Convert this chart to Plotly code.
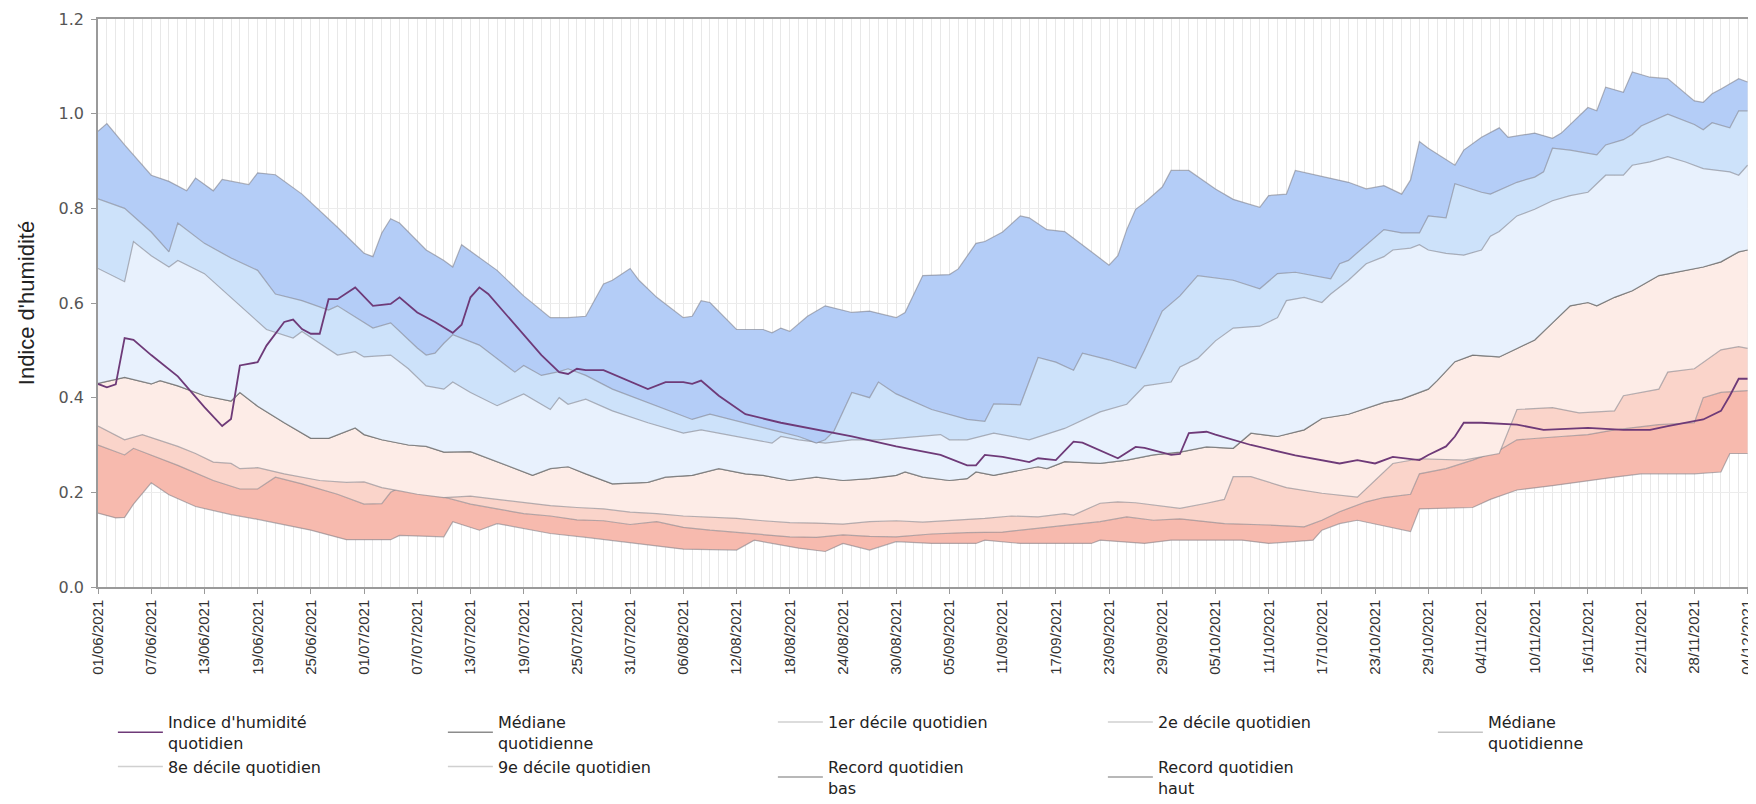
import datetime as dt
import plotly.graph_objects as go

START = dt.date(2021, 6, 1)
END = dt.datetime(2021, 12, 4, 12)

# ---- data (day offset from 01/06/2021, value) ----
tick_days = [0,6,12,18,24,30,36,42,48,54,60,66,72,78,84,90,96,102,108,114,120,126,132,138,144,150,156,162,168,174,180,186]

rec_high_days = [0,1,3,6,8,10,11,13,14,17,18,20,23,27,30,31,32,33,34,37,39,40,41,45,48,51,53,55,57,58,60,61,63,66,67,68,69,72,75,76,77,78,80,82,85,87,90,91,93,96,97,99,100,102,104,105,107,109,110,114,115,116,117,118,120,121,123,126,128,131,132,134,135,138,141,143,145,147,148,149,150,153,154,156,158,159,162,164,165,168,169,170,172,173,175,177,180,181,182,183,185,186]
rec_high_vals = [.963,.979,.934,.870,.857,.837,.864,.837,.861,.850,.875,.871,.830,.760,.705,.698,.748,.778,.769,.712,.690,.676,.723,.669,.615,.569,.569,.572,.640,.648,.673,.648,.612,.569,.572,.605,.601,.544,.544,.537,.547,.540,.572,.594,.580,.583,.569,.580,.658,.660,.672,.726,.730,.750,.784,.780,.755,.751,.737,.680,.700,.755,.798,.812,.845,.880,.880,.841,.819,.802,.827,.830,.880,.868,.855,.841,.848,.830,.860,.941,.927,.891,.923,.950,.970,.950,.959,.948,.959,1.013,1.006,1.056,1.045,1.088,1.077,1.074,1.027,1.024,1.042,1.052,1.074,1.067]

d9_days = [0,3,6,8,9,12,15,18,20,23,26,27,31,33,36,37,38,39,40,43,47,48,50,52,53,55,58,60,62,66,67,69,73,76,79,81,82,83,85,87,88,90,94,98,100,101,104,106,108,110,111,114,117,118,120,122,124,128,131,133,135,139,140,141,145,147,149,150,152,153,156,157,160,162,163,164,166,169,170,172,173,174,177,180,181,182,184,185,186]
d9_vals = [.820,.800,.750,.708,.769,.726,.695,.669,.619,.605,.585,.594,.547,.558,.505,.490,.494,.515,.533,.511,.454,.468,.447,.455,.461,.447,.418,.404,.390,.361,.354,.365,.347,.332,.318,.304,.311,.330,.411,.400,.433,.408,.375,.354,.350,.387,.385,.485,.475,.458,.494,.480,.462,.500,.583,.615,.658,.648,.630,.662,.665,.651,.683,.690,.755,.748,.748,.784,.780,.852,.834,.830,.855,.866,.877,.927,.923,.913,.934,.945,.956,.974,.999,.977,.966,.981,.970,1.006,1.006]

d8_days = [0,3,4,6,8,9,12,15,19,22,23,27,29,30,33,35,37,39,40,42,45,48,51,52,53,55,58,62,66,68,72,76,77,79,82,85,88,92,95,96,98,101,105,109,113,116,118,121,122,124,126,128,131,133,134,136,138,139,141,143,145,146,148,149,150,152,154,156,157,158,160,162,164,166,168,170,172,173,175,177,179,181,184,185,186]
d8_vals = [.673,.645,.730,.700,.676,.690,.662,.612,.544,.526,.540,.490,.497,.486,.490,.461,.425,.418,.433,.411,.383,.408,.375,.400,.386,.397,.372,.347,.325,.332,.318,.304,.318,.311,.304,.311,.311,.318,.322,.311,.311,.325,.311,.335,.370,.386,.425,.433,.465,.483,.520,.547,.551,.569,.605,.612,.601,.619,.648,.683,.698,.712,.716,.723,.712,.705,.701,.712,.741,.751,.784,.798,.816,.827,.834,.870,.870,.891,.898,.909,.898,.884,.877,.870,.891]

med_days = [0,3,6,7,9,10,12,15,16,18,21,24,26,29,30,32,35,37,39,42,45,49,51,53,55,58,62,64,67,70,73,75,78,81,84,87,90,91,93,96,98,99,101,104,106,107,109,113,116,119,122,125,128,130,133,136,138,141,145,147,150,151,153,155,158,160,162,164,166,168,169,171,173,176,178,181,183,185,186]
med_vals = [.430,.443,.429,.436,.425,.418,.404,.393,.411,.382,.347,.314,.314,.336,.322,.311,.300,.297,.285,.286,.264,.236,.250,.254,.239,.218,.221,.232,.236,.250,.239,.236,.225,.232,.225,.229,.236,.243,.232,.225,.229,.243,.236,.246,.254,.250,.265,.261,.268,.279,.285,.296,.293,.325,.318,.332,.356,.365,.390,.397,.418,.436,.476,.490,.486,.504,.522,.558,.594,.601,.594,.612,.626,.658,.665,.676,.687,.708,.712]

d2_days = [0,3,5,9,11,13,15,16,18,21,25,28,30,32,34,36,39,42,45,48,51,54,57,60,63,66,69,72,75,78,81,84,87,90,93,96,100,103,106,109,110,113,115,117,122,125,127,128,130,134,138,142,144,146,149,154,158,160,164,167,171,172,176,177,180,183,185,186]
d2_vals = [.340,.311,.322,.297,.282,.264,.261,.250,.252,.239,.225,.221,.222,.210,.203,.196,.189,.192,.185,.178,.172,.168,.165,.158,.155,.150,.148,.145,.140,.136,.135,.133,.138,.140,.137,.140,.145,.150,.148,.155,.152,.177,.180,.178,.166,.177,.185,.233,.233,.210,.198,.190,.225,.261,.271,.268,.282,.375,.379,.368,.372,.404,.418,.454,.461,.501,.508,.504]

d1_days = [0,3,4,9,13,16,18,20,23,27,30,32,33,34,36,39,42,45,48,51,54,57,60,63,66,69,72,75,78,81,84,87,90,94,98,102,106,109,113,116,119,122,127,132,136,138,140,143,145,148,149,152,155,158,160,165,168,171,176,180,181,183,186]
d1_vals = [.300,.279,.293,.257,.225,.207,.207,.232,.218,.196,.175,.176,.200,.210,.205,.190,.175,.165,.155,.150,.142,.140,.132,.138,.126,.120,.115,.110,.106,.105,.110,.107,.106,.112,.115,.116,.124,.131,.138,.148,.141,.144,.134,.131,.127,.141,.159,.180,.189,.196,.239,.250,.268,.289,.311,.318,.322,.332,.343,.347,.400,.411,.415]

rec_low_days = [0,2,3,4,6,8,11,15,18,21,24,28,33,34,39,40,43,45,51,55,59,63,66,72,74,79,82,84,87,90,94,99,100,104,112,113,118,121,129,132,137,138,140,142,148,149,155,157,160,164,168,171,174,180,183,184,186]
rec_low_vals = [.156,.146,.147,.175,.220,.195,.170,.153,.143,.132,.120,.100,.100,.109,.106,.138,.120,.134,.113,.105,.096,.086,.080,.078,.099,.082,.075,.092,.078,.096,.092,.092,.099,.092,.092,.099,.092,.099,.099,.092,.099,.120,.134,.141,.117,.165,.168,.185,.205,.214,.225,.232,.239,.239,.243,.282,.282]

idx_days = [0,1,2,3,4,6,9,12,14,15,16,17,18,19,20,21,22,23,24,25,26,27,29,31,33,34,36,38,40,41,42,43,44,47,50,52,53,54,55,57,60,62,64,66,67,68,70,73,77,81,85,90,95,98,99,100,102,105,106,108,110,111,115,117,118,121,122,123,125,126,130,135,140,142,144,146,149,150,152,153,154,156,160,163,168,172,175,177,181,183,184,185,186]
idx_vals = [.429,.422,.428,.526,.522,.490,.445,.380,.340,.355,.468,.472,.475,.510,.535,.560,.565,.545,.535,.535,.608,.608,.633,.594,.598,.612,.580,.560,.537,.554,.612,.633,.619,.554,.490,.454,.450,.461,.458,.458,.433,.418,.433,.433,.429,.436,.404,.365,.347,.332,.318,.297,.279,.257,.257,.279,.275,.264,.272,.268,.307,.305,.272,.296,.294,.279,.281,.325,.328,.322,.300,.278,.261,.268,.261,.275,.268,.279,.297,.318,.347,.347,.343,.332,.336,.332,.332,.340,.354,.372,.404,.440,.440]

legend_names = ["Indice d'humidité<br>quotidien", "Médiane<br>quotidienne", "1er décile quotidien",
                "2e décile quotidien", "Médiane<br>quotidienne", "8e décile quotidien",
                "9e décile quotidien", "Record quotidien<br>bas", "Record quotidien<br>haut"]
legend_colors = ["#6e3a78", "#8c8c8c", "#d0d0d0", "#d0d0d0", "#c4c4c4", "#d0d0d0", "#d0d0d0", "#a0a0a0", "#a0a0a0"]

# fill colours (bottom to top)
FILL_LOW = "rgb(247,186,174)"
FILL_D1D2 = "rgb(250,212,202)"
FILL_D2MED = "rgb(253,236,231)"
FILL_MEDD8 = "rgb(232,241,253)"
FILL_D8D9 = "rgb(205,226,250)"
FILL_D9HIGH = "rgb(180,205,247)"

EDGE = "rgba(120,120,130,0.55)"
MED_EDGE = "rgba(110,110,110,0.75)"


def dates(days):
    return [START + dt.timedelta(days=d) for d in days]


fig = go.Figure()

band_specs = [
    (rec_low_days, rec_low_vals, None, EDGE),
    (d1_days, d1_vals, FILL_LOW, EDGE),
    (d2_days, d2_vals, FILL_D1D2, EDGE),
    (med_days, med_vals, FILL_D2MED, MED_EDGE),
    (med_days, med_vals, None, MED_EDGE),
    (d8_days, d8_vals, FILL_MEDD8, EDGE),
    (d9_days, d9_vals, FILL_D8D9, EDGE),
    (rec_high_days, rec_high_vals, FILL_D9HIGH, EDGE),
]
for days, vals, fillc, linec in band_specs:
    kw = {}
    if fillc:
        kw = dict(fill="tonexty", fillcolor=fillc)
    fig.add_trace(go.Scatter(x=dates(days), y=vals, mode="lines",
                             line=dict(color=linec, width=1.2),
                             showlegend=False, hoverinfo="skip", **kw))

fig.add_trace(go.Scatter(x=dates(idx_days), y=idx_vals, mode="lines",
                         line=dict(color="#6e3a78", width=1.8),
                         showlegend=False, hoverinfo="skip"))

# legend-only entries
for rank, (name, col) in enumerate(zip(legend_names, legend_colors)):
    fig.add_trace(go.Scatter(x=[None], y=[None], mode="lines", name=name,
                             line=dict(color=col, width=1.5), legendrank=rank + 1))

tick_dates = dates(tick_days)

# the page body adds an 8 px offset, so the figure is 8 px smaller than the window
FIG_W, FIG_H = 1748, 796

fig.update_layout(
    width=FIG_W, height=FIG_H,
    margin=dict(l=90, r=4, t=11, b=217, autoexpand=False),
    paper_bgcolor="white", plot_bgcolor="white",
    font=dict(family="Liberation Sans, Arial, sans-serif", color="#333"),
    showlegend=True,
    legend=dict(orientation="h", x=0.009, xanchor="left",
                yref="container", y=1 - 697 / FIG_H, yanchor="top",
                entrywidth=270, entrywidthmode="pixels", itemwidth=45,
                font=dict(family="DejaVu Sans, sans-serif", size=16, color="#222"),
                traceorder="normal", bgcolor="rgba(0,0,0,0)"),
)

fig.update_xaxes(
    type="date", range=[START, END], automargin=False,
    tickmode="array", tickvals=tick_dates,
    ticktext=[d.strftime("%d/%m/%Y") for d in tick_dates], tickangle=-90,
    tickfont=dict(family="Liberation Sans, Arial, sans-serif", size=15, color="#333"),
    ticklabeloverflow="allow",
    showgrid=True, gridcolor="#e8e8e8", gridwidth=1,
    minor=dict(tickmode="linear", tick0=START, dtick=86400000, showgrid=True,
               gridcolor="#e8e8e8", gridwidth=1),
    showline=True, linecolor="#9a9a9a", linewidth=1.5, mirror=True,
    ticks="outside", ticklen=5, tickcolor="#9a9a9a",
    zeroline=False,
)
fig.update_yaxes(
    range=[0, 1.2], dtick=0.2, tickformat=".1f", automargin=False,
    tickfont=dict(family="DejaVu Sans, sans-serif", size=16, color="#555"),
    ticklabelstandoff=4,
    showgrid=True, gridcolor="#ececec",
    showline=True, linecolor="#9a9a9a", linewidth=1.5, mirror=True,
    ticks="outside", ticklen=5, tickcolor="#9a9a9a",
    zeroline=False,
    title=dict(text="Indice d'humidité", standoff=18,
               font=dict(family="Liberation Sans, Arial, sans-serif", size=22, color="#222")),
)

fig.write_html("out.html")
